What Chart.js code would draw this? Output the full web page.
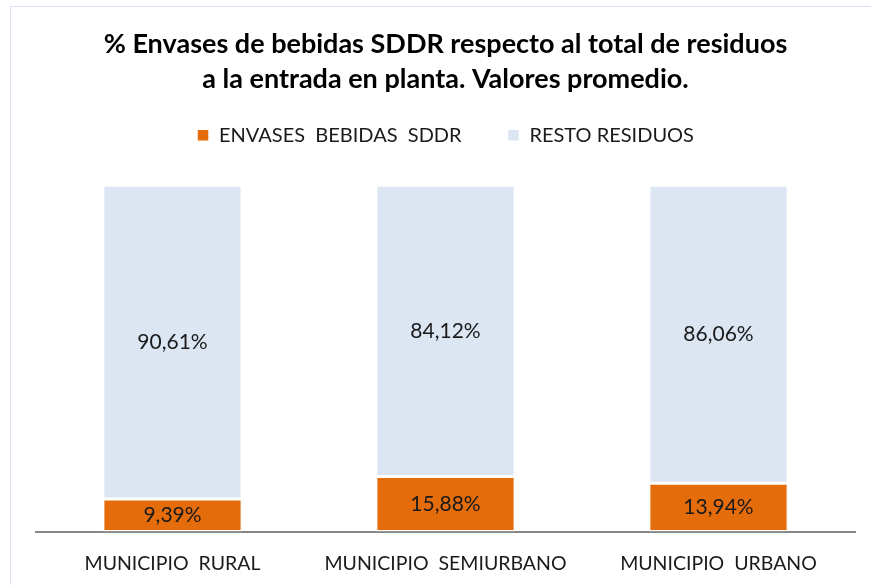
<!DOCTYPE html>
<html>
<head>
<meta charset="utf-8">
<script src="https://cdn.jsdelivr.net/npm/chart.js@4"></script>
<style>
  html, body { margin: 0; padding: 0; background: #fff; }
  #wrap { position: relative; width: 871px; height: 585px; overflow: hidden; }
  #frame { position: absolute; left: 10px; top: 6px; width: 900px; height: 700px; border: 1.5px solid #dae3f3; }
  canvas { position: absolute; left: 0; top: 0; }
</style>
</head>
<body>
<div id="wrap">
  <div id="frame"></div>
  <canvas id="chart" width="871" height="585"></canvas>
</div>
<script>
const categories = ["MUNICIPIO  RURAL", "MUNICIPIO  SEMIURBANO", "MUNICIPIO  URBANO"];
const envases = [9.39, 15.88, 13.94];
const resto = [90.61, 84.12, 86.06];
const seriesNames = ["ENVASES  BEBIDAS  SDDR", "RESTO RESIDUOS"];
const titleLines = ["% Envases de bebidas SDDR respecto al total de residuos", "a la entrada en planta. Valores promedio."];

const FONT = "Lato, 'Open Sans', sans-serif";

function pct(v) {
  return v.toFixed(2).replace(".", ",") + "%";
}

// value labels centred in each segment
const segLabels = {
  id: "segLabels",
  afterDatasetsDraw(chart) {
    const { ctx } = chart;
    ctx.save();
    ctx.font = "21px " + FONT;
    ctx.fillStyle = "#1a1a1a";
    ctx.textAlign = "center";
    ctx.textBaseline = "middle";
    chart.data.datasets.forEach((ds, di) => {
      const meta = chart.getDatasetMeta(di);
      meta.data.forEach((bar, i) => {
        const y = (bar.y + bar.base) / 2;
        ctx.fillText(pct(ds.data[i]), bar.x, y);
      });
    });
    ctx.restore();
  }
};

// extra room under the legend
const legendGap = {
  id: "legendGap",
  beforeInit(chart) {
    const fit = chart.legend.fit;
    chart.legend.fit = function () {
      fit.bind(chart.legend)();
      this.height += 30;
    };
  }
};

new Chart(document.getElementById("chart"), {
  type: "bar",
  data: {
    labels: categories,
    datasets: [
      { label: seriesNames[0] + "\u00a0\u00a0\u00a0\u00a0\u00a0\u00a0\u00a0", data: envases, backgroundColor: "#e46c0a", borderColor: "#ffffff", borderWidth: 1.5, borderSkipped: false, categoryPercentage: 1, barPercentage: 0.51 },
      { label: seriesNames[1], data: resto, backgroundColor: "#dce6f2", borderColor: "#ffffff", borderWidth: 1.5, borderSkipped: false, categoryPercentage: 1, barPercentage: 0.51 },
    ]
  },
  options: {
    responsive: false,
    animation: false,
    devicePixelRatio: 1,
    layout: { padding: { left: 36, right: 16, top: 0, bottom: -10 } },
    plugins: {
      title: {
        display: true,
        text: titleLines,
        color: "#000",
        font: { family: FONT, size: 27, weight: "bold", lineHeight: 1.3 },
        padding: { top: 27, bottom: 18 }
      },
      legend: {
        display: true,
        labels: {
          color: "#1a1a1a",
          font: { family: FONT, size: 20 },
          boxWidth: 12,
          boxHeight: 12,
          padding: 10,
          useBorderRadius: false
        }
      },
      tooltip: { enabled: false }
    },
    scales: {
      x: {
        stacked: true,
        grid: { display: false, drawTicks: false },
        border: { display: true, color: "#868686", width: 2 },
        ticks: { color: "#1a1a1a", font: { family: FONT, size: 19.5 }, padding: 20 }
      },
      y: {
        stacked: true,
        display: false,
        min: 0,
        max: 100
      }
    }
  },
  plugins: [segLabels, legendGap]
});
</script>
</body>
</html>
